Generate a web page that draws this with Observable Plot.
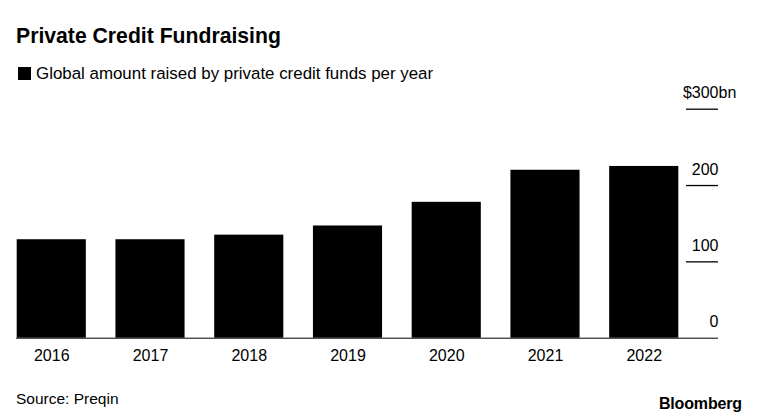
<!DOCTYPE html>
<html>
<head>
<meta charset="utf-8">
<script src="https://cdn.jsdelivr.net/npm/d3@7"></script>
<script src="https://cdn.jsdelivr.net/npm/@observablehq/plot@0.6"></script>
<style>
  html, body { margin: 0; padding: 0; background: #fff; }
  body { width: 757px; height: 419px; position: relative; overflow: hidden; font-family: "Liberation Sans", Arial, Helvetica, sans-serif; color: #000; }
  .title { position: absolute; left: 16px; top: 25px; font-size: 21.2px; font-weight: bold; line-height: 1; white-space: nowrap; }
  .subtitle { position: absolute; left: 18px; top: 65.6px; font-size: 16.9px; line-height: 1; white-space: nowrap; }
  .subtitle .sq { display: inline-block; width: 13px; height: 13px; background: #000; margin-right: 5px; vertical-align: -1px; }
  .source { position: absolute; left: 16px; top: 391px; font-size: 15.5px; line-height: 1; }
  .logo { position: absolute; right: 15px; top: 396px; font-size: 16px; font-weight: bold; line-height: 1; letter-spacing: -0.15px; }
  #chart { position: absolute; left: 0; top: 80px; }
</style>
</head>
<body>
<div id="chart"></div>
<div class="title">Private Credit Fundraising</div>
<div class="subtitle"><span class="sq"></span>Global amount raised by private credit funds per year</div>
<div class="source">Source: Preqin</div>
<div class="logo">Bloomberg</div>
<script>
const years = ["2016", "2017", "2018", "2019", "2020", "2021", "2022"];
const values = [129, 129, 135, 147, 178, 220, 225];
const yTicks = [0, 100, 200, 300];
const yUnit = "bn";

const data = years.map((y, i) => ({year: y, value: values[i]}));

const chart = Plot.plot({
  width: 757,
  height: 290,
  marginLeft: 16,
  marginRight: 39,
  marginTop: 28.7,
  marginBottom: 32.3,
  style: {fontFamily: '"Liberation Sans", Arial, Helvetica, sans-serif', fontSize: "16px", color: "#000", background: "transparent"},
  x: {type: "band", domain: years, range: [16.7, 678.3], paddingInner: 0.3, paddingOuter: 0, round: false, label: null},
  y: {domain: [0, 300], label: null},
  marks: [
    Plot.barY(data, {x: "year", y: "value", fill: "#000"}),
    Plot.ruleY([0], {stroke: "#000", strokeWidth: 1}),
    Plot.ruleY(yTicks.filter(d => d > 0), {insetLeft: 670, stroke: "#000", strokeWidth: 1.3}),
    Plot.axisX({tickSize: 0, tickPadding: 11.5, fontSize: 16, label: null}),
    Plot.axisY({anchor: "right", ticks: yTicks, tickSize: 0, tickPadding: 0, textAnchor: "end", dy: -16, fontSize: 16, label: null,
      tickFormat: d => d === 300 ? "$" + d : String(d)}),
    Plot.text([300], {y: d => d, text: () => yUnit, frameAnchor: "right", textAnchor: "start", dy: -16, fontSize: 16})
  ]
});
document.getElementById("chart").appendChild(chart);
</script>
</body>
</html>
